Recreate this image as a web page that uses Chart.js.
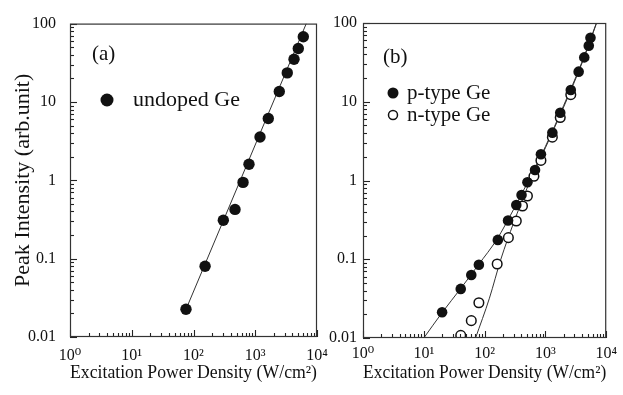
<!DOCTYPE html>
<html>
<head>
<meta charset="utf-8">
<script src="https://cdn.jsdelivr.net/npm/chart.js@4"></script>
<style>
html, body { margin: 0; padding: 0; background: #fff; }
#wrap { position: relative; width: 623px; height: 395px; overflow: hidden; }
canvas { position: absolute; top: 0; }
</style>
</head>
<body>
<div id="wrap">
    <canvas id="chartA" width="340" height="395" style="left:0"></canvas>
    <canvas id="chartB" width="323" height="395" style="left:300px"></canvas>
</div>
<script>
// Tick labels (one per decade)
const X_TICK_LABELS = ['10⁰', '10¹', '10²', '10³', '10⁴'];
const Y_TICK_LABELS = ['0.01', '0.1', '1', '10', '100'];

// (a) undoped Ge
const undopedX = [75.6, 154, 304, 470, 634, 792, 1194, 1627, 2450, 3300, 4245, 4980, 6000];
const undopedY = [0.0226, 0.080, 0.309, 0.425, 0.94, 1.6, 3.57, 6.15, 13.6, 23.5, 35, 48, 68];
const fitAX = [70, 6700];
const fitAY = [0.0195, 100];

// (b) p-type / n-type Ge
const pTypeX = [20, 40.5, 60.4, 80.5, 165, 243, 332, 405, 506, 675, 844, 1301, 1754, 2615, 3520, 4355, 5165, 5510];
const pTypeY = [0.0212, 0.042, 0.063, 0.085, 0.176, 0.31, 0.489, 0.655, 0.95, 1.36, 2.15, 4.05, 7.26, 14.1, 24.1, 36.6, 51.5, 65];
const nTypeX = [40.5, 60.4, 80.5, 161, 246, 332, 420, 506, 647, 844, 1301, 1754, 2615];
const nTypeY = [0.0108, 0.0166, 0.028, 0.087, 0.188, 0.306, 0.474, 0.636, 1.13, 1.8, 3.55, 6.3, 12.3];
const fitPX = [10, 20, 40, 80, 160, 300, 500, 1000, 2000, 4000, 6900];
const fitPY = [0.01, 0.021, 0.042, 0.086, 0.18, 0.43, 0.92, 2.7, 9, 32, 100];
const fitNX = [71, 120, 185, 300, 500, 1000, 2000, 4000, 6950];
const fitNY = [0.01, 0.032, 0.1, 0.29, 0.8, 2.6, 8.6, 31, 100];

const INK = '#111';
const SERIF = '"Liberation Serif", "DejaVu Serif", serif';

const toPoints = (xs, ys) => xs.map((x, i) => ({ x, y: ys[i] }));

function isDecade(v) {
    const e = Math.log10(v);
    return Math.abs(e - Math.round(e)) < 1e-6;
}

function decadeLabel(labels, firstExp) {
    return v => (isDecade(v) ? (labels[Math.round(Math.log10(v)) - firstExp] ?? '') : '');
}

// tick values 1..9 in each decade of the scale's range
function logTickValues(scale) {
    const vals = [];
    const lo = Math.round(Math.log10(scale.min));
    const hi = Math.round(Math.log10(scale.max));
    for (let e = lo; e <= hi; e++) {
        for (let m = 1; m <= 9; m++) {
            const v = m * Math.pow(10, e);
            if (v <= scale.max * 1.0001) vals.push({ v, major: m === 1 });
        }
    }
    return vals;
}

// frame box + inward ticks
const framePlugin = {
    id: 'frame',
    afterDraw(chart) {
        const { ctx, chartArea: a } = chart;
        const x = chart.scales.x;
        const y = chart.scales.y;
        ctx.save();
        ctx.strokeStyle = '#222';
        ctx.lineWidth = 1.1;
        logTickValues(x).forEach(t => {
            const px = Math.round(x.getPixelForValue(t.v)) + 0.5;
            const len = t.major ? 7 : 4;
            ctx.beginPath();
            ctx.moveTo(px, a.bottom);
            ctx.lineTo(px, a.bottom - len);
            ctx.stroke();
        });
        logTickValues(y).forEach(t => {
            const py = Math.round(y.getPixelForValue(t.v)) + 0.5;
            const len = t.major ? 7 : 4;
            ctx.beginPath();
            ctx.moveTo(a.left, py);
            ctx.lineTo(a.left + len, py);
            ctx.stroke();
        });
        ctx.lineWidth = 1.2;
        ctx.strokeStyle = '#333';
        ctx.strokeRect(a.left + 0.5, a.top + 0.5, a.right - a.left - 1, a.bottom - a.top - 1);
        ctx.restore();
    }
};

// panel letter + legend drawn inside the plot
const notesPlugin = {
    id: 'notes',
    afterDraw(chart, args, opts) {
        const ctx = chart.ctx;
        ctx.save();
        (opts.items || []).forEach(it => {
            if (it.marker) {
                ctx.beginPath();
                ctx.arc(it.mx, it.y, it.r, 0, Math.PI * 2);
                if (it.marker === 'filled') {
                    ctx.fillStyle = INK;
                    ctx.fill();
                } else {
                    ctx.fillStyle = '#fff';
                    ctx.fill();
                    ctx.lineWidth = 1.5;
                    ctx.strokeStyle = INK;
                    ctx.stroke();
                }
            }
            ctx.fillStyle = INK;
            ctx.font = `${it.size}px ${SERIF}`;
            ctx.textAlign = 'left';
            ctx.textBaseline = 'middle';
            ctx.fillText(it.text, it.x, it.y);
        });
        ctx.restore();
    }
};

function lineSet(xs, ys) {
    return {
        type: 'line',
        data: toPoints(xs, ys),
        borderColor: '#333',
        borderWidth: 1,
        pointRadius: 0,
        cubicInterpolationMode: 'monotone',
        fill: false,
        order: 5,
    };
}

function markerSet(xs, ys, filled, r, order) {
    return {
        data: toPoints(xs, ys),
        pointRadius: r,
        pointBackgroundColor: filled ? INK : '#fff',
        pointBorderColor: INK,
        pointBorderWidth: filled ? 0 : 1.5,
        showLine: false,
        order,
    };
}

function makeOptions({ yWidth, xHeight, yPad, xPad, padding, yTitle, notes }) {
    return {
        responsive: false,
        animation: false,
        layout: { padding },
        plugins: {
            legend: { display: false },
            tooltip: { enabled: false },
            notes: { items: notes },
        },
        scales: {
            x: {
                type: 'logarithmic',
                min: 1, max: 10000,
                grid: { display: false, drawTicks: false },
                border: { display: false },
                ticks: {
                    autoSkip: false, maxRotation: 0, padding: xPad,
                    color: INK, font: { family: SERIF, size: 16 },
                    callback: decadeLabel(X_TICK_LABELS, 0),
                },
                title: {
                    display: true, text: 'Excitation Power Density (W/cm²)',
                    color: INK, font: { family: SERIF, size: 18.5 },
                    padding: { top: 0, bottom: 11 },
                },
                afterFit: s => { s.height = xHeight; },
            },
            y: {
                type: 'logarithmic',
                min: 0.01, max: 100,
                grid: { display: false, drawTicks: false },
                border: { display: false },
                ticks: {
                    autoSkip: false, padding: yPad,
                    color: INK, font: { family: SERIF, size: 16 },
                    callback: decadeLabel(Y_TICK_LABELS, -2),
                },
                title: {
                    display: !!yTitle, text: yTitle || '',
                    color: INK, font: { family: SERIF, size: 22 },
                    padding: { top: 10, bottom: 0 },
                },
                afterFit: s => { s.width = yWidth; },
            },
        },
    };
}

new Chart(document.querySelector('#chartA'), {
    type: 'scatter',
    data: {
        datasets: [
            markerSet(undopedX, undopedY, true, 5.7, 0),
            lineSet(fitAX, fitAY),
        ],
    },
    options: makeOptions({
        yWidth: 70, xHeight: 58, yPad: 14, xPad: 9,
        padding: { top: 21, right: 23, bottom: 0, left: 0 },
        yTitle: 'Peak Intensity (arb.unit)',
        notes: [
            { text: '(a)', x: 92, y: 54, size: 21 },
            { text: 'undoped Ge', x: 133, y: 100, size: 22, marker: 'filled', mx: 107, r: 6.5 },
        ],
    }),
    plugins: [framePlugin, notesPlugin],
});

new Chart(document.querySelector('#chartB'), {
    type: 'scatter',
    data: {
        datasets: [
            markerSet(pTypeX, pTypeY, true, 5.3, 0),
            markerSet(nTypeX, nTypeY, false, 4.8, 1),
            lineSet(fitPX, fitPY),
            lineSet(fitNX, fitNY),
        ],
    },
    options: makeOptions({
        yWidth: 63, xHeight: 57, yPad: 6, xPad: 6,
        padding: { top: 23, right: 13, bottom: 0, left: 0 },
        yTitle: '',
        notes: [
            { text: '(b)', x: 83, y: 57, size: 21 },
            { text: 'p-type Ge', x: 107, y: 93, size: 21, marker: 'filled', mx: 93, r: 5.5 },
            { text: 'n-type Ge', x: 107, y: 115, size: 21, marker: 'open', mx: 93, r: 4.5 },
        ],
    }),
    plugins: [framePlugin, notesPlugin],
});
</script>
</body>
</html>
